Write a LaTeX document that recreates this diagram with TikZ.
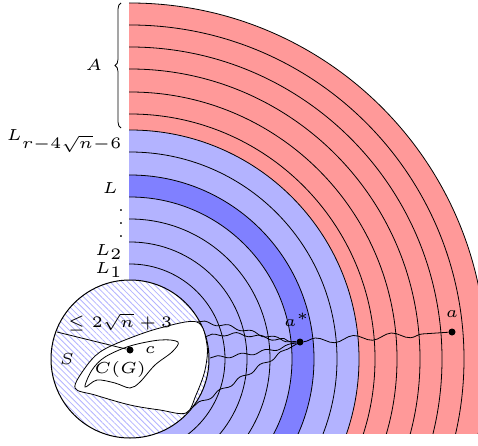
\documentclass[tikz,border=0pt]{standalone}
\usepackage{graphicx}
\usetikzlibrary{decorations.pathmorphing,decorations.pathreplacing,patterns.meta}
\newcommand\Tx[1]{\scalebox{3.2}{\tiny #1}}
\newcommand\myvdots{\vbox{\baselineskip4pt\lineskiplimit0pt\hbox{.}\hbox{.}\hbox{.}}}
\definecolor{ringred}{HTML}{FF9999}
\definecolor{ringblue}{HTML}{B3B3FF}
\definecolor{ringdark}{HTML}{8080FF}
\begin{document}
\begin{tikzpicture}[x=1pt,y=1pt,
  ring/.style={line width=0.8pt},
  dot/.style={circle,fill=black,inner sep=0pt,minimum size=7pt},
  lbl/.style={inner sep=1pt},
  wig/.style={line width=0.8pt,decorate,decoration={snake,amplitude=1.6pt,segment length=24pt}}]
\useasboundingbox (0,0) rectangle (478,445);
\coordinate (O) at (130,86);
% rings
\begin{scope}
\clip (129,12) rectangle (478,445);
\fill[ringred] (O) circle[radius=356pt];
\fill[ringblue] (O) circle[radius=229pt];
\fill[ringdark] (O) circle[radius=184pt];
\fill[ringblue] (O) circle[radius=162pt];
\foreach \r in {356,334,312,290,267,245,229,207,184,162,140,117,95,73}
  \draw[ring] (O) circle[radius=\r pt];
\end{scope}
% small circle S
\fill[white] (O) circle[radius=79pt];
\fill[pattern={Lines[angle=-45,distance=4.2pt,line width=0.8pt]},pattern color=ringblue] (O) circle[radius=79pt];
\draw[line width=1pt] (O) circle[radius=79pt];
% outer blob
\draw[fill=white,line width=0.8pt] plot[smooth cycle,tension=0.55] coordinates
 {(75,57) (85,77) (100,93) (125,105) (160,117) (197,123) (207,100) (205,75) (196,50) (186,32) (160,35) (130,40) (95,50)};
% C(G)
\draw[line width=0.8pt] plot[smooth cycle,tension=0.55] coordinates
 {(85,58) (92,75) (105,88) (130,99) (160,105) (178,103) (172,93) (155,80) (140,63) (130,57) (115,62) (97,65)};
% points
\node[dot] (c) at (130,95) {};
\node[dot] (astar) at (300,103) {};
\node[dot] (a) at (452,113) {};
\coordinate (s0) at (57,113);
\draw[line width=0.8pt] (s0) -- (c);
% wiggly paths
\coordinate (p1) at (197,123);
\coordinate (p2) at (205,108);
\coordinate (p3) at (210,87);
\coordinate (p4) at (193,38);
\draw[wig] (p1) to[out=-5,in=175] (astar);
\draw[wig] (p2) to[out=10,in=180] (astar);
\draw[wig] (p3) to[out=5,in=195] (astar);
\draw[wig] (p4) to[out=30,in=210] (astar);
\draw[line width=0.8pt,decorate,decoration={snake,amplitude=3pt,segment length=38pt,post length=16pt}] (astar) -- (a);
% labels
\node[lbl] at (150,95) {\Tx{$c$}};
\node[lbl] at (297,125) {\Tx{$a^*$}};
\node[lbl] at (452,131) {\Tx{$a$}};
\node[lbl] at (67,86) {\Tx{$S$}};
\node[lbl] at (120,76) {\Tx{$C(G)$}};
\node[lbl] at (120,123) {\Tx{$\leq 2\sqrt{n}+3$}};
\node[lbl,anchor=east] at (124,304) {\Tx{$L_{r-4\sqrt{n}-6}$}};
\node[lbl,anchor=east] at (119,257) {\Tx{$L$}};
\node[lbl,anchor=base,inner sep=0pt] at (121,208) {\Tx{\myvdots}};
\node[lbl,anchor=east] at (124,193) {\Tx{$L_2$}};
\node[lbl,anchor=east] at (124,175) {\Tx{$L_1$}};
\coordinate (b0) at (121,317);
\coordinate (b1) at (121,442);
\draw[line width=0.8pt,decorate,decoration={brace,amplitude=6pt}] (b0) -- (b1);
\node[lbl] at (94,380) {\Tx{$A$}};
\end{tikzpicture}
\end{document}
